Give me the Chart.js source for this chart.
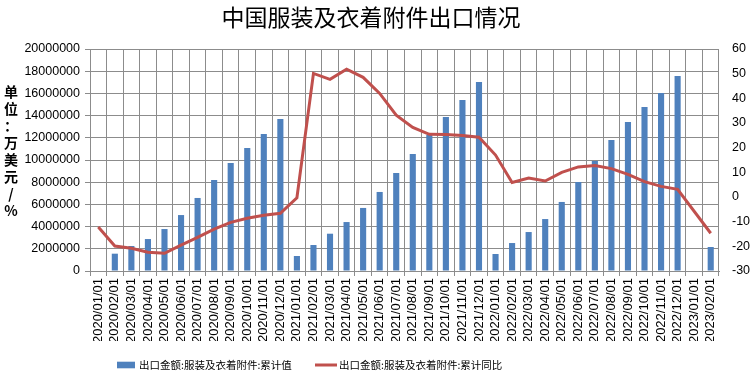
<!DOCTYPE html>
<html><head><meta charset="utf-8">
<script src="https://cdn.jsdelivr.net/npm/chart.js@4/dist/chart.umd.min.js"></script>
<style>html,body{margin:0;padding:0;background:#fff}#wrap{width:753px;height:379px;position:relative}</style>
</head><body><div id="wrap"><canvas id="c" width="753" height="379"></canvas></div>
<script>
const categories = ['2020/01/01','2020/02/01','2020/03/01','2020/04/01','2020/05/01','2020/06/01','2020/07/01','2020/08/01','2020/09/01','2020/10/01','2020/11/01','2020/12/01',
  '2021/01/01','2021/02/01','2021/03/01','2021/04/01','2021/05/01','2021/06/01','2021/07/01','2021/08/01','2021/09/01','2021/10/01','2021/11/01','2021/12/01',
  '2022/01/01','2022/02/01','2022/03/01','2022/04/01','2022/05/01','2022/06/01','2022/07/01','2022/08/01','2022/09/01','2022/10/01','2022/11/01','2022/12/01',
  '2023/01/01','2023/02/01'];
const cumulativeValue = [null,1560000,2250000,2880000,3780000,5040000,6580000,8200000,9730000,11080000,12340000,13690000,
  1350000,2340000,3360000,4410000,5680000,7120000,8830000,10540000,12250000,13870000,15410000,17030000,
  1530000,2520000,3510000,4680000,6220000,8020000,9910000,11800000,13420000,14770000,16040000,17570000,
  null,2160000];
const cumulativeYoY = [-12.2,-19.9,-20.8,-22.4,-22.8,-19.5,-16.4,-13.0,-10.3,-8.6,-7.4,-6.6,
  -0.3,50.1,47.7,51.8,48.5,42.0,33.2,28.2,25.4,25.3,24.9,24.2,
  17.0,5.9,7.7,6.5,10.0,12.2,12.8,11.5,9.2,6.2,4.3,3.1,
  null,-14.7];
const leftAxis = {min: 0, max: 20000000, step: 2000000};
const rightAxis = {min: -30, max: 60, step: 10};
const titleText = '中国服装及衣着附件出口情况';
const yAxisLabel = ['单','位','：','万','美','元','/','%'];
const seriesNames = ['出口金额:服装及衣着附件:累计值','出口金额:服装及衣着附件:累计同比'];

const BLUE = '#4F81BD', RED = '#C0504D', GRID = '#8c8c8c';
const NUM_FONT = 'Liberation Sans';
const CJK_FONT = '"Noto Sans CJK SC"';

const decor = {
  id: 'decor',
  afterDraw(chart) {
    const ctx = chart.ctx;
    ctx.save();
    ctx.fillStyle = '#000';
    // title
    ctx.font = '23px ' + CJK_FONT;
    ctx.textAlign = 'center';
    ctx.textBaseline = 'middle';
    ctx.fillText(titleText, 371, 17);
    // vertical axis label
    ctx.font = 'bold 14px ' + CJK_FONT;
    yAxisLabel.forEach((ch, i) => ctx.fillText(ch, 11, 92 + i * 16.9));
    // legend
    const ds = chart.data.datasets;
    const barDs = ds.find(d => d.type === 'bar');
    const lineDs = ds.find(d => d.type === 'line');
    const ly = 365;
    ctx.fillStyle = barDs.backgroundColor;
    ctx.fillRect(117, ly - 3.3, 18, 6.6);
    ctx.strokeStyle = lineDs.borderColor;
    ctx.lineWidth = 3;
    ctx.beginPath(); ctx.moveTo(315, ly); ctx.lineTo(337, ly); ctx.stroke();
    ctx.fillStyle = '#000';
    ctx.font = '10.5px ' + CJK_FONT;
    ctx.textAlign = 'left';
    ctx.fillText(barDs.label, 139, ly);
    ctx.fillText(lineDs.label, 339, ly);
    ctx.restore();
  }
};

new Chart(document.getElementById('c'), {
  data: {
    labels: categories,
    datasets: [
      {type: 'line', label: seriesNames[1], data: cumulativeYoY, yAxisID: 'y1', order: 0,
       borderColor: RED, backgroundColor: RED, borderWidth: 3, pointRadius: 0, tension: 0, spanGaps: true},
      {type: 'bar', label: seriesNames[0], data: cumulativeValue, yAxisID: 'y', order: 1,
       backgroundColor: BLUE, borderWidth: 0, categoryPercentage: 1, barPercentage: 0.37}
    ]
  },
  options: {
    responsive: false, animation: false, devicePixelRatio: 1,
    layout: {padding: {left: 0, right: 0, top: 49, bottom: 38}},
    plugins: {legend: {display: false}, title: {display: false}, tooltip: {enabled: false}},
    scales: {
      x: {
        type: 'category', offset: true,
        grid: {offset: true, color: GRID, tickLength: 5},
        border: {color: GRID},
        ticks: {minRotation: 90, maxRotation: 90, autoSkip: false, padding: 2, color: '#000',
                font: {family: NUM_FONT, size: 13}},
        afterFit: s => { s.height = 70; }
      },
      y: {
        position: 'left', min: leftAxis.min, max: leftAxis.max,
        grid: {color: GRID, tickLength: 5},
        border: {color: GRID},
        ticks: {stepSize: leftAxis.step, padding: 5, color: '#000', font: {family: NUM_FONT, size: 12.5},
                callback: v => String(v)},
        afterFit: s => { s.width = 90; }
      },
      y1: {
        position: 'right', min: rightAxis.min, max: rightAxis.max,
        grid: {drawOnChartArea: false, drawTicks: false},
        border: {display: false},
        ticks: {stepSize: rightAxis.step, padding: 13, color: '#000', font: {family: NUM_FONT, size: 12.5},
                callback: v => String(v)},
        afterFit: s => { s.width = 34; }
      }
    }
  },
  plugins: [decor]
});
</script>
</body></html>
